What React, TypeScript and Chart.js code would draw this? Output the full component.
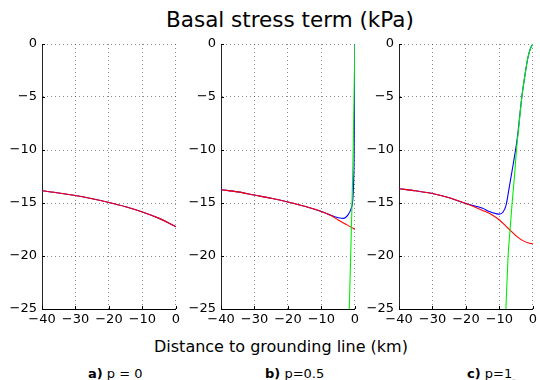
import React, { useEffect, useRef } from "react";
import { Chart, registerables } from "chart.js";

Chart.register(...registerables);

// ---- Data ----
const xTicks = [-40, -30, -20, -10, 0];
const yTicks = [0, -5, -10, -15, -20, -25];

// Panel a) p = 0
const aX = [-40, -35, -30, -25, -20, -15, -10, -5, -2, 0];
const aRed = [-13.85, -14.05, -14.3, -14.6, -14.95, -15.35, -15.85, -16.45, -16.9, -17.25];
const aBlue = [-13.85, -14.05, -14.3, -14.6, -14.95, -15.35, -15.85, -16.45, -16.9, -17.25];

// Panel b) p = 0.5
const bRedX = [-40, -35, -30, -25, -20, -15, -10, -7, -5, -3, -1, 0];
const bRedY = [-13.75, -13.95, -14.25, -14.55, -14.9, -15.3, -15.8, -16.2, -16.6, -16.95, -17.3, -17.5];
const bBlueX = [-40, -35, -30, -25, -20, -15, -10, -8, -6, -4.5, -3.4, -2, -1.2, -0.7, -0.5, -0.3, -0.2, -0.1, 0];
const bBlueY = [-13.75, -13.95, -14.25, -14.55, -14.9, -15.3, -15.8, -16.05, -16.3, -16.42, -16.45, -16.1, -15.6, -15.0, -14.1, -12.5, -10.9, -6, 0];
const bGreenX = [-1.67, -1.25, -0.85, -0.5, -0.25, 0];
const bGreenY = [-25, -20, -15, -10, -5, 0];

// Panel c) p = 1
const cRedX = [-40, -35, -30, -25, -20, -15, -12, -10, -8, -7, -5, -3, -1, 0];
const cRedY = [-13.65, -13.85, -14.1, -14.5, -15.05, -15.7, -16.15, -16.6, -17.2, -17.5, -18.1, -18.55, -18.8, -18.85];
const cBlueX = [-40, -35, -30, -25, -20, -17, -15, -13, -11, -10, -9, -8, -7, -5.8, -4.7, -3.3, -2.3, -1.5, -0.7, 0];
const cBlueY = [-13.65, -13.85, -14.1, -14.5, -15.05, -15.3, -15.5, -15.8, -16.0, -16.05, -15.9, -15.2, -13.4, -11.2, -9.0, -5.0, -2.8, -1.3, -0.4, 0];
const cGreenX = [-8.06, -7.4, -6.8, -6.2, -5.5, -4.9, -4.1, -3.3, -2.3, -1.5, -0.7, 0];
const cGreenY = [-25, -20, -17.5, -15, -12.5, -10, -7.5, -5, -2.8, -1.3, -0.4, 0];

const RED = "#ff0000";
const BLUE = "#0000ff";
const GREEN = "#00ee00";

const pts = (xs: number[], ys: number[]) => xs.map((x, i) => ({ x, y: ys[i] }));

const fmt = (v: number | string) => {
  const n = Number(v);
  return n < 0 ? "\u2212" + Math.abs(n) : String(n);
};

const innerTicks = {
  id: "innerTicks",
  beforeDatasetsDraw(chart: any) {
    const { ctx, chartArea: a, scales } = chart;
    const x = scales.x;
    const y = scales.y;
    ctx.save();
    ctx.strokeStyle = "#000";
    ctx.lineWidth = 1;
    ctx.beginPath();
    yTicks.forEach((v) => {
      const py = Math.round(y.getPixelForValue(v)) + 0.5;
      ctx.moveTo(a.left, py);
      ctx.lineTo(a.left + 3, py);
    });
    xTicks.forEach((v) => {
      const px = Math.round(x.getPixelForValue(v)) + 0.5;
      ctx.moveTo(px, a.bottom);
      ctx.lineTo(px, a.bottom - 3);
    });
    ctx.stroke();
    ctx.restore();
  },
};

type Series = { xs: number[]; ys: number[]; color: string };

function Panel({ left, series }: { left: number; series: Series[] }) {
  const ref = useRef<HTMLCanvasElement | null>(null);
  useEffect(() => {
    if (!ref.current) return;
    const tickFont = { family: "DejaVu Sans", size: 13 };
    const chart = new Chart(ref.current, {
      type: "line",
      data: {
        datasets: series.map((s) => ({
          data: pts(s.xs, s.ys),
          borderColor: s.color,
          borderWidth: 1.1,
          pointRadius: 0,
          fill: false,
          cubicInterpolationMode: "monotone" as const,
        })),
      },
      options: {
        animation: false,
        responsive: false,
        maintainAspectRatio: false,
        events: [],
        layout: { padding: { left: 0, right: 6, top: 44, bottom: 0 } },
        plugins: {
          legend: { display: false },
          tooltip: { enabled: false },
          title: { display: false },
        },
        scales: {
          x: {
            type: "linear",
            min: -40,
            max: 0,
            afterBuildTicks: (s: any) => {
              s.ticks = xTicks.map((v) => ({ value: v }));
            },
            afterFit: (s: any) => {
              s.height = 21;
            },
            ticks: { font: tickFont, color: "#000", padding: 3, maxRotation: 0, callback: fmt },
            grid: { color: "rgba(0,0,0,0.45)", drawTicks: false, lineWidth: 1 },
            border: { display: true, color: "#000", width: 1, dash: [1, 3] },
          },
          y: {
            type: "linear",
            min: -25,
            max: 0,
            afterBuildTicks: (s: any) => {
              s.ticks = yTicks.map((v) => ({ value: v }));
            },
            afterFit: (s: any) => {
              s.width = 42;
            },
            ticks: { font: tickFont, color: "#000", padding: 5, callback: fmt },
            grid: { color: "rgba(0,0,0,0.45)", drawTicks: false, lineWidth: 1 },
            border: { display: true, color: "#222", width: 1, dash: [1, 3] },
          },
        },
      },
      plugins: [innerTicks],
    } as any);
    return () => chart.destroy();
  }, []);
  return (
    <canvas
      ref={ref}
      width={183}
      height={330}
      style={{ position: "absolute", left, top: 0, width: 183, height: 330 }}
    />
  );
}

const textBase: React.CSSProperties = {
  position: "absolute",
  fontFamily: "DejaVu Sans",
  whiteSpace: "nowrap",
  color: "#000",
};

export default function App() {
  return (
    <div
      style={{
        position: "fixed",
        left: 0,
        top: 0,
        width: 540,
        height: 380,
        overflow: "hidden",
        background: "#fff",
      }}
    >
      <div style={{ ...textBase, left: 166, top: 9, fontSize: 21.5, lineHeight: "21.5px" }}>
        Basal stress term (kPa)
      </div>
      <Panel
        left={0}
        series={[
          { xs: aX, ys: aRed, color: RED },
          { xs: aX, ys: aBlue, color: BLUE },
        ]}
      />
      <Panel
        left={179}
        series={[
          { xs: bGreenX, ys: bGreenY, color: GREEN },
          { xs: bRedX, ys: bRedY, color: RED },
          { xs: bBlueX, ys: bBlueY, color: BLUE },
        ]}
      />
      <Panel
        left={357}
        series={[
          { xs: cGreenX, ys: cGreenY, color: GREEN },
          { xs: cRedX, ys: cRedY, color: RED },
          { xs: cBlueX, ys: cBlueY, color: BLUE },
        ]}
      />
      <div style={{ ...textBase, left: 154, top: 339, fontSize: 16, lineHeight: "16px" }}>
        Distance to grounding line (km)
      </div>
      <div style={{ ...textBase, left: 88, top: 366.5, fontSize: 13, lineHeight: "13px" }}>
        <b>a)</b> p = 0
      </div>
      <div style={{ ...textBase, left: 265, top: 366.5, fontSize: 13, lineHeight: "13px" }}>
        <b>b)</b> p=0.5
      </div>
      <div style={{ ...textBase, left: 467, top: 366.5, fontSize: 13, lineHeight: "13px" }}>
        <b>c)</b> p=1<span style={{ color: "#999", fontSize: 6 }}>_</span>
      </div>
    </div>
  );
}
